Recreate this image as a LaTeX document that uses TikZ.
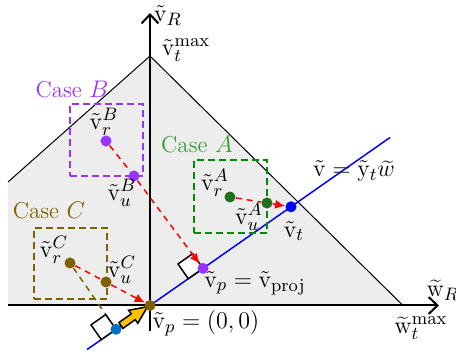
\documentclass[tikz,border=0pt]{standalone}
\usetikzlibrary{arrows.meta,calc}
\definecolor{caseB}{RGB}{153,51,255}
\definecolor{caseA}{RGB}{0,140,0}
\definecolor{caseAtxt}{RGB}{50,160,50}
\definecolor{dotA}{RGB}{30,110,30}
\definecolor{caseC}{RGB}{127,96,0}
\definecolor{regfill}{RGB}{237,237,237}
\definecolor{dotblue}{RGB}{0,112,192}
\definecolor{gold}{RGB}{255,192,0}
\pgfdeclarelayer{bgl}
\pgfdeclarelayer{backl}
\pgfdeclarelayer{midl}
\pgfsetlayers{bgl,backl,midl,main}
\begin{document}
\begin{tikzpicture}[x=0.5pt,y=-0.5pt,
  lab/.style={font=\fontsize{12.5}{15}\selectfont, inner sep=0pt},
  caselab/.style={font=\fontsize{11.5}{14}\selectfont, inner sep=0pt},
  dotnode/.style={circle, inner sep=0pt, minimum size=5.5pt},
  casebox/.style={draw, dash pattern=on 3.5pt off 2pt, line width=0.75pt, inner sep=0pt},
  redarrow/.style={red, line width=0.75pt, dash pattern=on 3pt off 2.5pt, -{Latex[length=5pt,width=4.5pt]}},
  axisline/.style={line width=1pt, -{Straight Barb[length=4.5pt,width=8.5pt]}},
  rightsq/.style={draw=black, fill=white, line width=0.75pt, line join=miter},
]
\useasboundingbox (0,0) rectangle (456,356);

% region and axes
\coordinate (apex) at (150,56);
\coordinate (rc) at (403,305.5);
\coordinate (lc) at (8,182);
\coordinate (lb) at (8,305.5);
\coordinate (xs) at (8,305.5);
\coordinate (xe) at (439,305.5);
\coordinate (ys) at (150,331);
\coordinate (ye) at (150,13);
\coordinate (bl1) at (87,349.6);
\coordinate (bl2) at (390,137.5);

% boxes
\node[casebox, draw=caseB, minimum width=36.5pt, minimum height=36pt] (boxB) at (106.5,140) {};
\node[casebox, draw=caseA, minimum width=36.5pt, minimum height=36.5pt] (boxA) at (230.5,196.5) {};
\node[casebox, draw=caseC, minimum width=36.5pt, minimum height=35.5pt] (boxC) at (70.5,263.5) {};

% dots
\node[dotnode, fill=caseB] (rB) at (106,141) {};
\node[dotnode, fill=caseB] (uB) at (134,176) {};
\node[dotnode, fill=caseB] (P) at (203,268.4) {};
\node[dotnode, fill=dotA] (rA) at (230,197) {};
\node[dotnode, fill=dotA] (uA) at (267,203) {};
\node[dotnode, fill=blue] (T) at (291,206.8) {};
\node[dotnode, fill=caseC] (rC) at (70,263) {};
\node[dotnode, fill=caseC] (uC) at (106,282) {};
\node[dotnode, fill=caseC] (O) at (150,305.5) {};
\node[dotnode, fill=dotblue] (B) at (116,329.3) {};

\begin{pgfonlayer}{bgl}
\fill[regfill] (apex) -- (rc) -- (lb) -- (lc) -- cycle;
\draw[line width=0.5pt] (lc) -- (apex) -- (rc);
\end{pgfonlayer}
\begin{pgfonlayer}{backl}
\draw[axisline] (xs) -- (xe);
\draw[axisline] (ys) -- (ye);
\draw[blue, line width=0.75pt] (bl1) -- (bl2);
\draw[caseC, line width=0.75pt, dash pattern=on 3pt off 2.5pt] (rC) -- (B);
\end{pgfonlayer}
\begin{pgfonlayer}{midl}
\draw[rightsq] (B.center) -- ++(-14.7,10.3) -- ++(-10.3,-14.7) -- ++(14.7,-10.3) -- cycle;
\draw[rightsq] (P.center) -- ++(-14.7,10.3) -- ++(-10.3,-14.7) -- ++(14.7,-10.3) -- cycle;
\filldraw[fill=gold, draw=black, line width=0.75pt, line join=miter]
  (122.9,328.4) -- (135.2,319.7) -- (137.8,323.3) -- (147.5,306.7)
  -- (128.6,310.3) -- (131.2,313.9) -- (118.9,322.6) -- cycle;
\end{pgfonlayer}

% red arrows
\draw[redarrow] (rB) -- (uB) -- (P);
\draw[redarrow] (rA) -- (uA) -- (T);
\draw[redarrow] (rC) -- (uC) -- (O);

% labels
\node[lab] (lvR) at (168,16) {$\tilde{\mathrm{v}}_R$};
\node[lab] (lvmax) at (186,50) {$\tilde{\mathrm{v}}_t^{\max}$};
\node[caselab, text=caseB] (lcaseB) at (72,90) {Case $B$};
\node[caselab, text=caseAtxt] (lcaseA) at (197,145) {Case $A$};
\node[caselab, text=caseC] (lcaseC) at (49,211) {Case $C$};
\node[lab] (lrB) at (104,122) {$\tilde{\mathrm{v}}_r^B$};
\node[lab] (luB) at (122,193) {$\tilde{\mathrm{v}}_u^B$};
\node[lab] (lrA) at (215,183) {$\tilde{\mathrm{v}}_r^A$};
\node[lab] (luA) at (249,217) {$\tilde{\mathrm{v}}_u^A$};
\node[lab] (lt) at (294,231) {$\tilde{\mathrm{v}}_t$};
\node[lab] (lline) at (354,171) {$\tilde{\mathrm{v}} = \tilde{\mathrm{y}}_t\widetilde{w}$};
\node[lab] (lrC) at (54,250) {$\tilde{\mathrm{v}}_r^C$};
\node[lab] (luC) at (122,270) {$\tilde{\mathrm{v}}_u^C$};
\node[lab] (lP) at (255,283) {$\tilde{\mathrm{v}}_p = \tilde{\mathrm{v}}_{\mathrm{proj}}$};
\node[lab] (lO) at (206,323) {$\tilde{\mathrm{v}}_p = (0,0)$};
\node[lab] (lwR) at (443,290) {$\widetilde{\mathrm{w}}_R$};
\node[lab] (lwmax) at (421,328) {$\widetilde{\mathrm{w}}_t^{\max}$};
\end{tikzpicture}
\end{document}
